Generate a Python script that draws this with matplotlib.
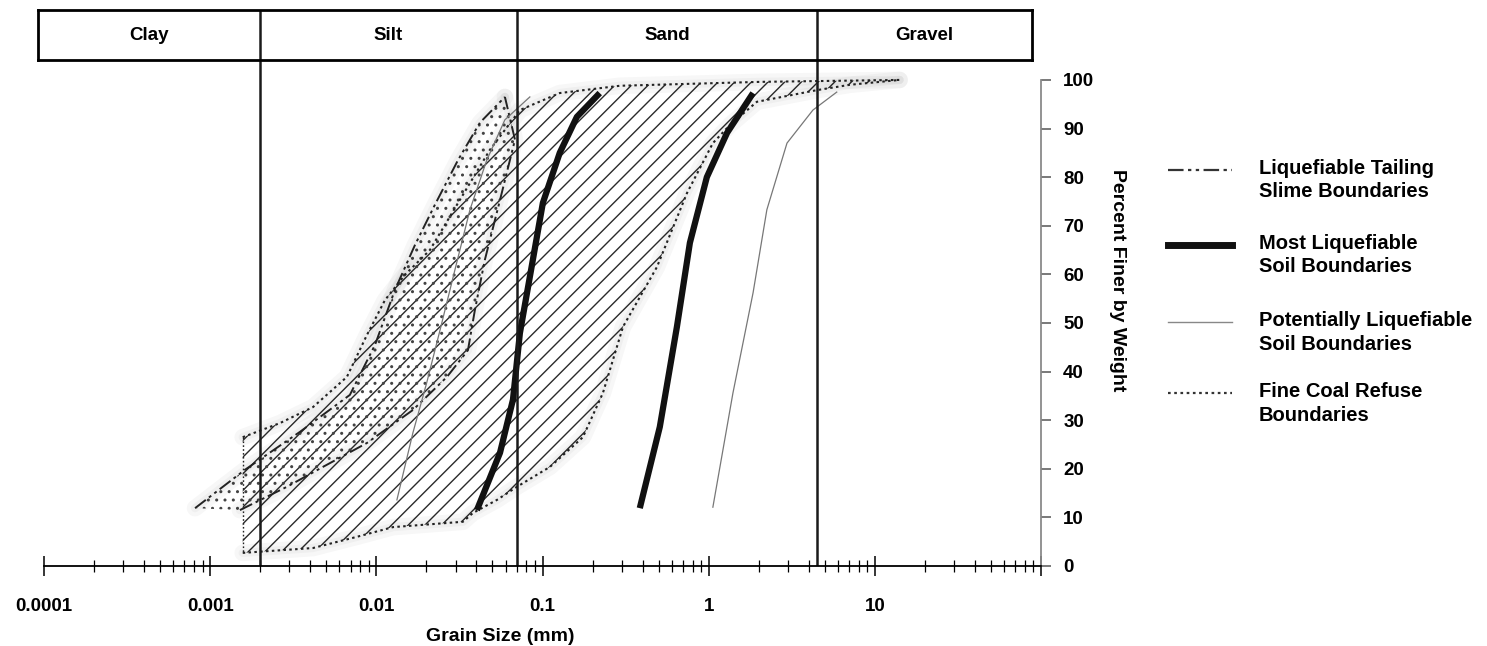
import numpy as np
import matplotlib.pyplot as plt
from matplotlib.lines import Line2D
from matplotlib.ticker import LogLocator, NullFormatter

plt.rcParams['font.family'] = ['Liberation Sans', 'DejaVu Sans']
plt.rcParams['font.weight'] = 'bold'
plt.rcParams['hatch.linewidth'] = 1.0

# soil classes shown in the header band
soil_names = ['Clay', 'Silt', 'Sand', 'Gravel']
soil_limits = [0.002, 0.07, 4.5]  # mm

# fine coal refuse envelope (grain size mm, percent finer)
coal_fine_d = [0.00157, 0.00263, 0.00416, 0.00665, 0.00877, 0.01127, 0.01486, 0.0210,
               0.0318, 0.0482, 0.0731, 0.127, 0.292, 2.03, 14.1]
coal_fine_p = [26.5, 29.4, 32.7, 38.9, 47.5, 54.7, 59.9, 65.0, 75.3, 85.6, 93.8, 97.3,
               98.8, 99.6, 100]
coal_coarse_d = [0.00157, 0.00416, 0.00763, 0.0126, 0.0332, 0.0381, 0.0532, 0.0702, 0.111,
                 0.175, 0.231, 0.305, 0.488, 0.740, 1.06, 1.34, 1.95, 4.48, 7.08, 14.1]
coal_coarse_p = [2.7, 3.7, 6.0, 8.0, 9.1, 10.9, 13.6, 16.3, 20.4, 26.5, 35.6, 49.2, 61.5,
                 76.7, 87.0, 90.7, 95.5, 97.9, 99.0, 100]

# liquefiable tailing slime envelope
tail_fine_d = [0.000811, 0.00162, 0.00347, 0.00693, 0.00982, 0.01294, 0.01706, 0.0225,
               0.0310, 0.0420, 0.0594]
tail_fine_p = [11.9, 19.8, 27.6, 35.2, 45.5, 56.8, 66.0, 74.3, 83.5, 91.2, 96.5]
tail_coarse_d = [0.00151, 0.00290, 0.00478, 0.00877, 0.0166, 0.0266, 0.0356, 0.0392,
                 0.0450, 0.0555, 0.0683, 0.0594]
tail_coarse_p = [11.5, 16.3, 20.4, 25.3, 32.1, 38.9, 44.4, 52.7, 63.0, 75.3, 87.7, 96.5]

# most liquefiable soil boundaries
most_fine_d = [0.0403, 0.0555, 0.0664, 0.0731, 0.0875, 0.1005, 0.127, 0.161, 0.221]
most_fine_p = [11.5, 23.3, 34.2, 47.9, 63.0, 74.7, 85.0, 92.4, 97.3]
most_coarse_d = [0.385, 0.508, 0.644, 0.771, 0.975, 1.29, 1.85]
most_coarse_p = [11.9, 28.6, 49.2, 66.5, 80.0, 89.1, 97.3]

# potentially liquefiable soil boundaries
pot_fine_d = [0.0133, 0.0166, 0.0201, 0.0242, 0.0297, 0.0366, 0.0462, 0.0594, 0.0839]
pot_fine_p = [13.6, 27.4, 37.7, 48.6, 60.9, 73.3, 83.5, 91.8, 96.5]
pot_coarse_d = [1.06, 1.40, 1.85, 2.24, 2.96, 4.24, 5.90]
pot_coarse_p = [12.1, 35.6, 56.2, 73.3, 87.0, 93.8, 97.5]

x_ticks = [1e-4, 1e-3, 1e-2, 1e-1, 1, 10, 100]
x_labels = ['0.0001', '0.001', '0.01', '0.1', '1', '10', '']

tail_ls = (0, (7, 2, 1.5, 2, 1.5, 2))
coal_ls = (0, (1.2, 1.6))

W, H = 1487, 646
fig = plt.figure(figsize=(W / 100, H / 100), dpi=100)
ax = fig.add_axes([44 / W, 80 / H, 997 / W, 506 / H])
ax.set_xscale('log')
ax.set_xlim(1e-4, 100)
ax.set_ylim(0, 104.1)

# fills
ax.fill(coal_fine_d + coal_coarse_d[::-1], coal_fine_p + coal_coarse_p[::-1],
        facecolor='none', edgecolor='#2a2a2a', hatch='//', linewidth=0)
ax.fill(tail_fine_d + tail_coarse_d[::-1], tail_fine_p + tail_coarse_p[::-1],
        facecolor='none', edgecolor='#444444', hatch='..', linewidth=0)

# soft shadow along the envelopes
for d, p in [(coal_fine_d, coal_fine_p), (coal_coarse_d, coal_coarse_p),
             (tail_fine_d, tail_fine_p), (tail_coarse_d, tail_coarse_p)]:
    ax.plot(d, p, color='black', lw=12, alpha=0.03, solid_capstyle='round')
    ax.plot(d, p, color='black', lw=6, alpha=0.03, solid_capstyle='round')

ax.plot(coal_fine_d, coal_fine_p, color='#222222', lw=1.5, ls=coal_ls)
ax.plot(coal_coarse_d, coal_coarse_p, color='#222222', lw=1.5, ls=coal_ls)
ax.plot([coal_fine_d[0], coal_coarse_d[0]], [coal_fine_p[0], coal_coarse_p[0]],
        color='#222222', lw=1.0, ls=coal_ls)
ax.plot(tail_fine_d, tail_fine_p, color='#222222', lw=1.4, ls=tail_ls)
ax.plot(tail_coarse_d, tail_coarse_p, color='#222222', lw=1.4, ls=tail_ls)
ax.plot(most_fine_d, most_fine_p, color='#111111', lw=4.5, solid_capstyle='butt')
ax.plot(most_coarse_d, most_coarse_p, color='#111111', lw=4.5, solid_capstyle='butt')
ax.plot(pot_fine_d, pot_fine_p, color='#777777', lw=0.9)
ax.plot(pot_coarse_d, pot_coarse_p, color='#777777', lw=0.9)

for lim in soil_limits:
    ax.axvline(lim, color='#1a1a1a', lw=1.8)

# axes styling
for s in ['top', 'left']:
    ax.spines[s].set_visible(False)
ax.spines['bottom'].set_linewidth(1.3)
ax.spines['right'].set_color('#8a8a8a')
ax.spines['right'].set_linewidth(1.3)
ax.spines['right'].set_bounds(0, 100)
ax.set_xticks(x_ticks, x_labels)
ax.xaxis.set_minor_locator(LogLocator(base=10, subs=np.arange(2, 10)))
ax.xaxis.set_minor_formatter(NullFormatter())
ax.tick_params(axis='x', which='major', direction='inout', length=14, width=1.1,
               pad=16, labelsize=13.5)
ax.tick_params(axis='x', which='minor', direction='inout', length=8, width=0.9)
ax.yaxis.tick_right()
ax.set_yticks(range(0, 101, 10))
ax.tick_params(axis='y', direction='out', length=7, width=1.1, pad=9,
               labelsize=13.5, color='#555555')
ax.text(1.077, 58.8, 'Percent Finer by Weight', rotation=-90, fontsize=14,
        transform=ax.get_yaxis_transform(), ha='center', va='center')
ax.text(0.458, -0.14, 'Grain Size (mm)', fontsize=14, transform=ax.transAxes,
        ha='center', va='center')

# header band with soil classes
hx0 = 10 ** (-4 + (38 - 44) / 166.2)
hx1 = 10 ** (-4 + (1032 - 44) / 166.2)
axh = fig.add_axes([38 / W, (H - 60) / H, (1032 - 38) / W, 50 / H])
axh.set_xscale('log')
axh.set_xlim(hx0, hx1)
axh.set_ylim(0, 1)
axh.set_xticks([])
axh.set_yticks([])
axh.minorticks_off()
for s in axh.spines.values():
    s.set_linewidth(2)
edges = [hx0] + soil_limits + [hx1]
for lim in soil_limits:
    axh.axvline(lim, color='#1a1a1a', lw=1.8)
for i, name in enumerate(soil_names):
    xc = np.sqrt(edges[i] * edges[i + 1])
    axh.text(xc, 0.5, name, ha='center', va='center', fontsize=13.5)

# legend
entries = [
    ('Liquefiable Tailing\nSlime Boundaries', 170, dict(color='#333333', lw=1.6, ls=tail_ls)),
    ('Most Liquefiable\nSoil Boundaries', 245, dict(color='#111111', lw=5)),
    ('Potentially Liquefiable\nSoil Boundaries', 322, dict(color='#888888', lw=1.0)),
    ('Fine Coal Refuse\nBoundaries', 393, dict(color='#333333', lw=1.6, ls=coal_ls)),
]
for label, ypx, style in entries:
    fig.add_artist(Line2D([1168 / W, 1232 / W], [1 - ypx / H, 1 - ypx / H],
                          transform=fig.transFigure, **style))
    fig.text(1259 / W, 1 - (ypx - 11) / H, label, fontsize=14.5, ha='left', va='top',
             linespacing=1.3)

fig.savefig('out.png', dpi=100, facecolor='white')
plt.close(fig)
